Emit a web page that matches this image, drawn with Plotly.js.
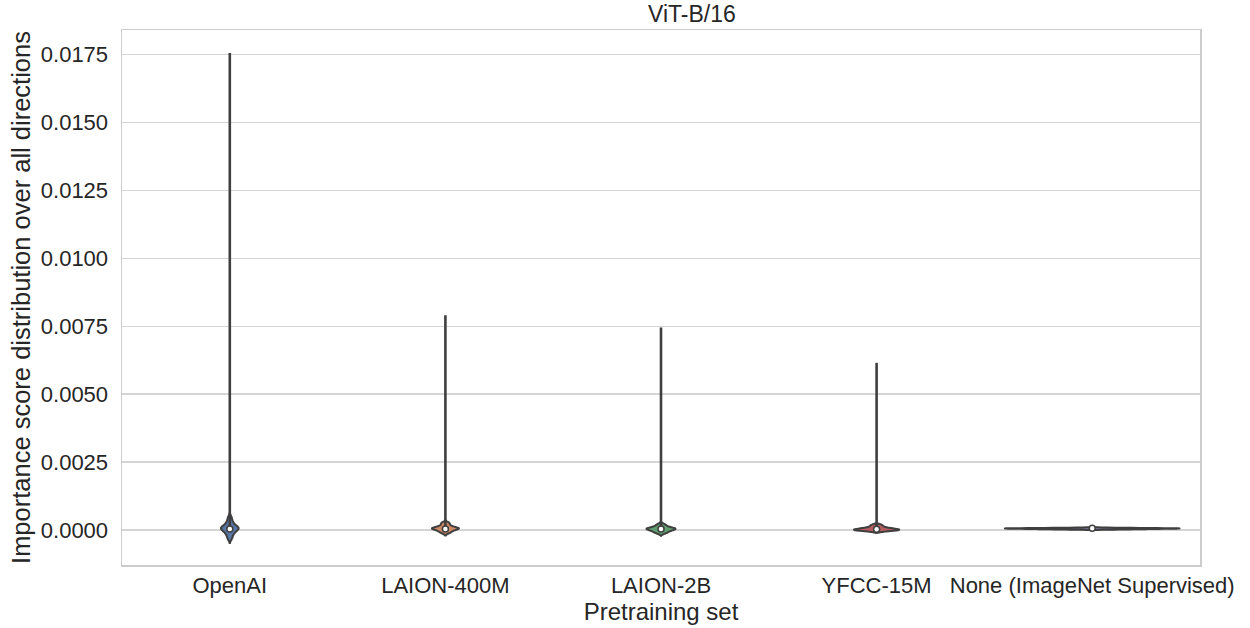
<!DOCTYPE html>
<html>
<head>
<meta charset="utf-8">
<script src="https://cdn.plot.ly/plotly-3.0.1.min.js"></script>
<style>html,body{margin:0;padding:0;background:#fff;}#chart{width:1250px;height:628px;}</style>
</head>
<body>
<div id="chart"></div>
<script>
// Categories (pretraining sets)
const categories = ["OpenAI", "LAION-400M", "LAION-2B", "YFCC-15M", "None (ImageNet Supervised)"];

// Importance score samples of the dense core of each distribution
const openaiScores = [-0.00034, -0.00025, -0.00018, -0.00012, -0.00008, -0.00004, -0.00001, 0.00002, 0.00004, 0.00006,
  0.00008, 0.0001, 0.00012, 0.00015, 0.00019, 0.00024, 0.0003, 0.00038, 0.00048];
const laion400mScores = [-0.00012, -0.00008, -0.00005, -0.00002, 0.0, 0.00002, 0.00004, 0.00005, 0.00006, 0.00007,
  0.00008, 0.0001, 0.00012, 0.00015, 0.00019, 0.00024, 0.00028];
const laion2bScores = [-0.00013, -0.00009, -0.00006, -0.00003, -0.00001, 0.00001, 0.00003, 0.00004, 0.00005, 0.00006,
  0.00008, 0.0001, 0.00013, 0.00017, 0.00022];
const yfccScores = [-0.00005, -0.00003, -0.00002, -0.00001, 0.0, 0.00001, 0.00002, 0.00003, 0.00004, 0.00005,
  0.00007, 0.00009, 0.00012, 0.00016, 0.0002];
const noneScores = [0.00002, 0.00003, 0.00004, 0.00005, 0.00005, 0.00006, 0.00006, 0.00007, 0.00008];

// Maximum importance score of each set (end of the long thin tail)
const maxScores = [0.01755, 0.0079, 0.00745, 0.00615, 0.00008];

// Medians (white dots)
const medians = [0.00004, 0.00004, 0.00004, 0.00003, 0.00006];

// Tick values for the y axis
const yTicks = [0.0, 0.0025, 0.005, 0.0075, 0.01, 0.0125, 0.015, 0.0175];

// Styles
const fills = ["#5975a4", "#cc8963", "#5f9e6e", "#b55d60", "#857aab"];
const edge = "#3f3f3f";
const widths = [0.082, 0.125, 0.135, 0.21, 0.81];
const bandwidths = [0.00007, 0.00004, 0.00004, 0.00003, 0.00001];

const allScores = [openaiScores, laion400mScores, laion2bScores, yfccScores, noneScores];

const traces = [];

// long upper tails (drawn below the violin bodies)
categories.forEach((c, i) => {
  traces.push({
    type: "scatter",
    mode: "lines",
    x: [c, c],
    y: [medians[i], maxScores[i]],
    line: {color: edge, width: 2.6},
    hoverinfo: "skip",
    showlegend: false
  });
});

allScores.forEach((ys, i) => {
  traces.push({
    type: "violin",
    y: ys,
    x0: categories[i],
    name: categories[i],
    width: widths[i],
    bandwidth: bandwidths[i],
    spanmode: "soft",
    points: false,
    fillcolor: fills[i],
    opacity: 1,
    line: {color: edge, width: 2},
    box: {visible: false},
    meanline: {visible: false},
    hoverinfo: "skip",
    showlegend: false
  });
});

traces.push({
  type: "scatter",
  mode: "markers",
  x: categories,
  y: medians,
  marker: {color: "#ffffff", size: 6, line: {color: edge, width: 1.5}},
  hoverinfo: "skip",
  showlegend: false
});

const font = "Liberation Sans, Arial, sans-serif";

const layout = {
  width: 1250,
  height: 628,
  margin: {l: 122, r: 50, t: 30, b: 63},
  paper_bgcolor: "#ffffff",
  plot_bgcolor: "#ffffff",
  violinmode: "overlay",
  font: {family: font, color: "#262626", size: 22},
  title: {
    text: "ViT-B/16",
    font: {family: font, size: 23, color: "#262626"},
    x: 0.5287, xref: "paper", xanchor: "center",
    y: 1 - 14 / 628, yref: "container", yanchor: "middle"
  },
  xaxis: {
    type: "category",
    categoryorder: "array",
    categoryarray: categories,
    range: [-0.5, 4.5],
    showgrid: false,
    zeroline: false,
    showline: true,
    mirror: true,
    linecolor: "#cccccc",
    linewidth: 1.5,
    ticks: "",
    tickfont: {family: font, size: 22, color: "#262626"},
    title: {text: "Pretraining set", font: {family: font, size: 24, color: "#262626"}, standoff: 4}
  },
  yaxis: {
    range: [-0.001288, 0.018394],
    tickvals: yTicks,
    tickformat: ".4f",
    showgrid: true,
    gridcolor: "#d5d5d5",
    gridwidth: 1.2,
    zeroline: false,
    showline: true,
    mirror: true,
    linecolor: "#cccccc",
    linewidth: 1.5,
    ticks: "",
    ticklabelstandoff: 8,
    tickfont: {family: font, size: 22, color: "#262626"},
    title: {text: "Importance score distribution over all directions", font: {family: font, size: 25.5, color: "#262626"}, standoff: 3}
  }
};

Plotly.newPlot("chart", traces, layout, {displayModeBar: false, staticPlot: true});
</script>
</body>
</html>
